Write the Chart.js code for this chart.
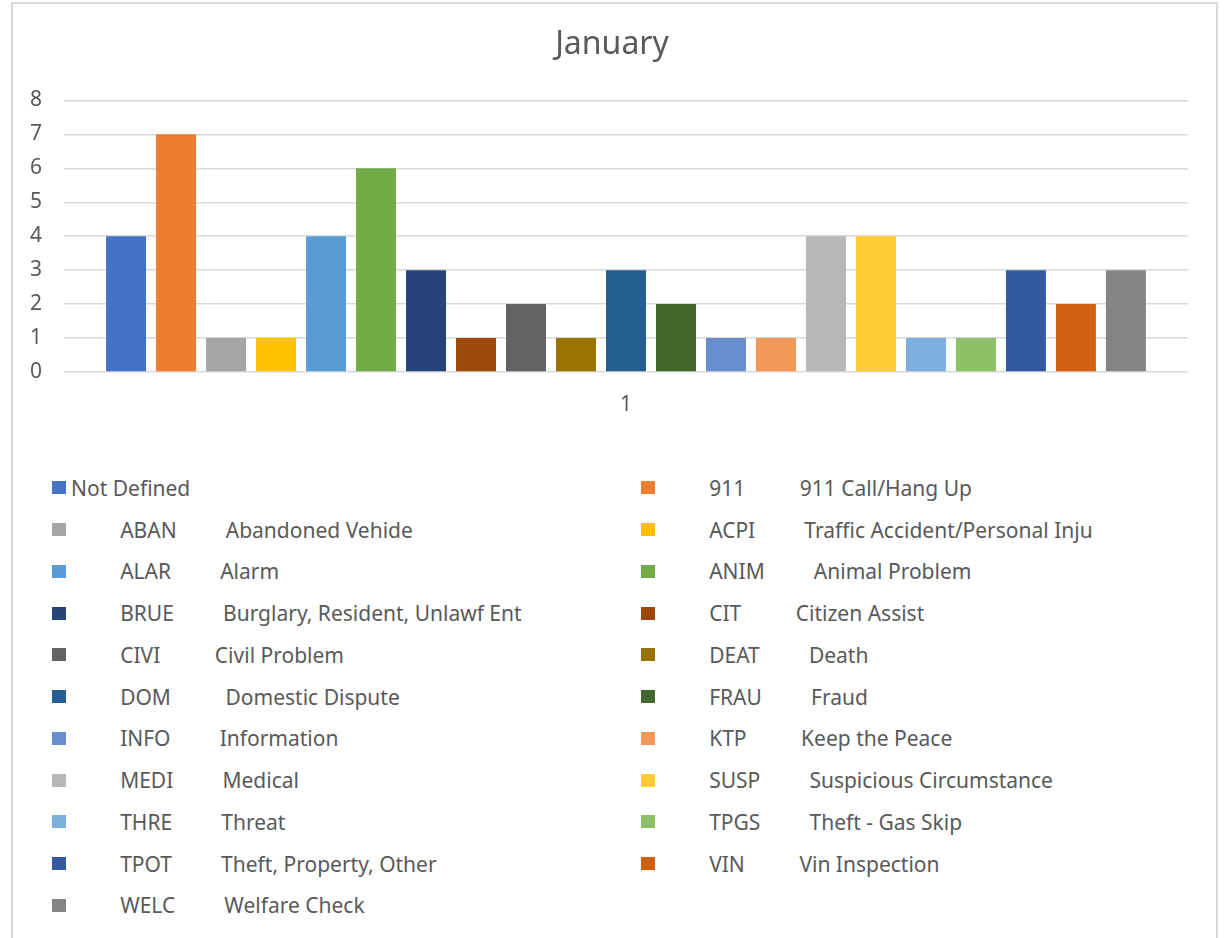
<!DOCTYPE html>
<html>
<head>
<meta charset="utf-8">
<script src="https://cdn.jsdelivr.net/npm/chart.js@4.4.1/dist/chart.umd.min.js"></script>
<style>
  html, body { margin: 0; padding: 0; background: #fff; overflow: hidden; }
  #page { position: relative; width: 1224px; height: 938px; font-family: 'Noto Sans', sans-serif; }
  #frame { position: absolute; left: 11px; top: 2px; width: 1207px; height: 960px; border: 2px solid #d9d9d9; box-sizing: border-box; }
  #chartBox { position: absolute; left: 0; top: 0; width: 1224px; height: 440px; }
  #legend { position: absolute; left: 52px; top: 467px; display: grid; grid-template-columns: 589px 560px; }
  .item { height: 41.75px; display: flex; align-items: center; color: #595959; font-size: 21px; white-space: pre; }
  .swatch { width: 14px; height: 13px; margin-right: 5px; flex: none; }
</style>
</head>
<body>
<div id="page">
  <div id="frame"></div>
  <div id="chartBox"><canvas id="myChart"></canvas></div>
  <div id="legend"></div>
</div>
<script>
// Categories (one group on the x axis)
const categories = ['1'];

// Series names as they appear in the legend
const seriesLabels = [
  'Not Defined',
  '         911          911 Call/Hang Up',
  '         ABAN         Abandoned Vehide',
  '         ACPI         Traffic Accident/Personal Inju',
  '         ALAR         Alarm',
  '         ANIM         Animal Problem',
  '         BRUE         Burglary, Resident, Unlawf Ent',
  '         CIT          Citizen Assist',
  '         CIVI          Civil Problem',
  '         DEAT         Death',
  '         DOM          Domestic Dispute',
  '         FRAU         Fraud',
  '         INFO         Information',
  '         KTP          Keep the Peace',
  '         MEDI         Medical',
  '         SUSP         Suspicious Circumstance',
  '         THRE         Threat',
  '         TPGS         Theft - Gas Skip',
  '         TPOT         Theft, Property, Other',
  '         VIN          Vin Inspection',
  '         WELC         Welfare Check',
];

// Counts for January, one per series
const seriesValues = [4, 7, 1, 1, 4, 6, 3, 1, 2, 1, 3, 2, 1, 1, 4, 4, 1, 1, 3, 2, 3];

// Office palette colours, one per series
const seriesColors = [
  '#4472C4', '#ED7D31', '#A5A5A5', '#FFC000', '#5B9BD5', '#70AD47', '#264478',
  '#9E480E', '#636363', '#997300', '#255E91', '#43682B', '#698ED0', '#F1975A',
  '#B7B7B7', '#FFCD33', '#7CAFDD', '#8CC168', '#335AA1', '#D26012', '#848484',
];

// y axis ticks
const yTicks = [0, 1, 2, 3, 4, 5, 6, 7, 8];

Chart.defaults.font.family = "'Noto Sans', sans-serif";
Chart.defaults.color = '#595959';

const datasets = seriesLabels.map((label, i) => ({
  label: label,
  data: [seriesValues[i]],
  backgroundColor: seriesColors[i],
  categoryPercentage: 0.934,
  barPercentage: 0.8,
}));

const ctx = document.getElementById('myChart').getContext('2d');
const chart = new Chart(ctx, {
  type: 'bar',
  data: { labels: categories, datasets: datasets },
  options: {
    responsive: true,
    maintainAspectRatio: false,
    animation: false,
    layout: { padding: { left: 12, right: 12, top: 0, bottom: 0 } },
    plugins: {
      legend: { display: false },
      tooltip: { enabled: false },
      title: {
        display: true,
        text: 'January',
        color: '#595959',
        font: { size: 32, weight: 'normal' },
        padding: { top: 26, bottom: 36 },
      },
    },
    scales: {
      x: {
        afterFit: (scale) => { scale.height = 68; },
        grid: { display: false, drawTicks: false },
        border: { display: false },
        ticks: { font: { size: 21 }, color: '#595959', padding: 20 },
      },
      y: {
        min: yTicks[0],
        max: yTicks[yTicks.length - 1],
        afterFit: (scale) => { scale.width = 52; },
        afterBuildTicks: (scale) => { scale.ticks = yTicks.map(v => ({ value: v })); },
        grid: { color: '#d9d9d9', lineWidth: 1.5, drawTicks: false },
        border: { display: false },
        ticks: { font: { size: 21 }, color: '#595959', padding: 22 },
      },
      // empty right-hand axis, only keeps the plot clear of the frame
      yRight: {
        position: 'right',
        afterFit: (scale) => { scale.width = 24; },
        grid: { drawOnChartArea: false, drawTicks: false },
        border: { display: false },
        ticks: { display: false },
      },
    },
  },
});

// Two-column legend, filled row by row like the original
const legendEl = document.getElementById('legend');
seriesLabels.forEach((label, i) => {
  const item = document.createElement('div');
  item.className = 'item';
  const sw = document.createElement('span');
  sw.className = 'swatch';
  sw.style.background = seriesColors[i];
  item.appendChild(sw);
  item.appendChild(document.createTextNode(label));
  legendEl.appendChild(item);
});
</script>
</body>
</html>
